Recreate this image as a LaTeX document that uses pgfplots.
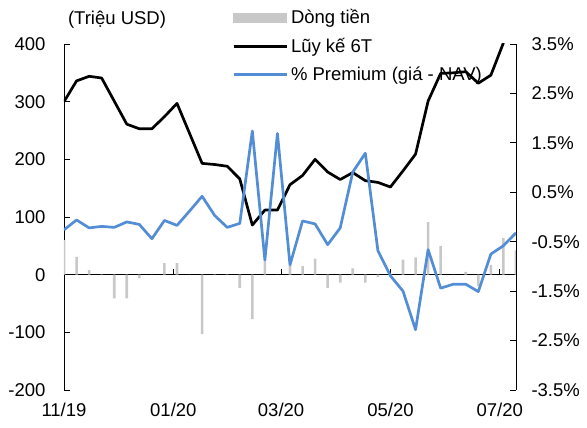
\documentclass[border=0pt]{standalone}
\usepackage{fontspec}
\setmainfont{Liberation Sans}
\usepackage{pgfplots}
\usepackage{pgfplotstable}
\pgfplotsset{compat=1.18}

\definecolor{barcol}{RGB}{200,200,200}
\definecolor{prem}{RGB}{83,141,213}

% weekly data, 11/2019 - 07/2020
\pgfplotstableread{
i  flow  cum   prem
0  60    300   -0.26
1  31    336   -0.06
2  8     344   -0.22
3  -1    341   -0.19
4  -41   301   -0.21
5  -41   261   -0.10
6  -6    253   -0.15
7  0     253   -0.44
8  20    274   -0.07
9  20    297   -0.17
10 0     245   0.12
11 -103  193   0.42
12 -1    191   0.03
13 -1    188   -0.21
14 -23   166   -0.13
15 -77   86    1.74
16 27    112   -0.87
17 0     112   1.69
18 16    156   -0.97
19 15    172   -0.08
20 28    200   -0.14
21 -23   178   -0.56
22 -14   165   -0.22
23 11    177   0.91
24 -14   163   1.29
25 -4    160   -0.68
26 2     152   -1.19
27 26    180   -1.50
28 30    209   -2.28
29 91    301   -0.66
30 50    349   -1.44
31 0     350   -1.36
32 5     352   -1.36
33 -20   332   -1.51
34 17    346   -0.75
35 64    402   -0.58
36 42    nan   -0.32
}\datatab

\pgfplotsset{
  chartbase/.style={
    scale only axis, width=452pt, height=346pt,
    xmin=0, xmax=36,
    /pgf/number format/assume math mode=true,
    tick label style={font=\fontsize{18.5}{21}\selectfont},
    major tick length=6pt,
    tick style={black, line width=0.8pt},
    axis line style={black, line width=0.8pt},
    tick align=inside,
    hide obscured x ticks=false, hide obscured y ticks=false,
  }
}

\begin{document}
\begin{tikzpicture}
\begin{axis}[chartbase, name=ax,
  ymin=-200, ymax=400, ytick={-200,-100,...,400},
  axis y line*=left, axis x line*=middle,
  xtick={8.71,17.29,26,34.71}, xticklabels={},
  yticklabel shift=15pt,
]
\addplot[ybar, bar width=2.6pt, fill=barcol, draw=none] table[x=i, y=flow] {\datatab};
\addplot[black, line width=2.7pt, line join=round] table[x=i, y=cum] {\datatab};
\end{axis}

\begin{axis}[chartbase,
  ymin=-3.5, ymax=3.5, ytick={-3.5,-2.5,-1.5,-0.5,0.5,1.5,2.5,3.5},
  axis y line*=right, axis x line*=bottom,
  x axis line style={draw=none}, xtick style={draw=none},
  xtick={0,8.71,17.29,26,34.71},
  xticklabels={11/19,01/20,03/20,05/20,07/20},
  xticklabel shift=10pt, yticklabel shift=12pt,
  yticklabel={\pgfmathprintnumber[fixed,fixed zerofill,precision=1]{\tick}\%},
  legend cell align=left,
  legend image code/.code={\draw (0pt,0pt) -- (53pt,0pt);},
  legend style={draw=none, fill=none, at={(rel axis cs:0.372,1.10)}, anchor=north west,
    inner sep=0pt, font=\fontsize{18.5}{21}\selectfont, row sep=13pt, column sep=3pt,
    nodes={inner sep=0pt}},
]
\addlegendimage{legend image code/.code={\fill[barcol] (0pt,-4.5pt) rectangle (53pt,4.5pt);}}
\addlegendentry{Dòng tiền}
\addlegendimage{black, line width=2.7pt}
\addlegendentry{Lũy kế 6T}
\addplot[prem, line width=2.7pt, line join=round] table[x=i, y=prem] {\datatab};
\addlegendentry{\% Premium (giá - NAV)}
\end{axis}
\node[font=\fontsize{18.5}{21}\selectfont] at ([shift={(53pt,24pt)}]ax.north west) {(Triệu USD)};
\pgfresetboundingbox
\path ([shift={(-64pt,-38pt)}]ax.south west) rectangle ([shift={(71pt,44pt)}]ax.north east);
\end{tikzpicture}
\end{document}
